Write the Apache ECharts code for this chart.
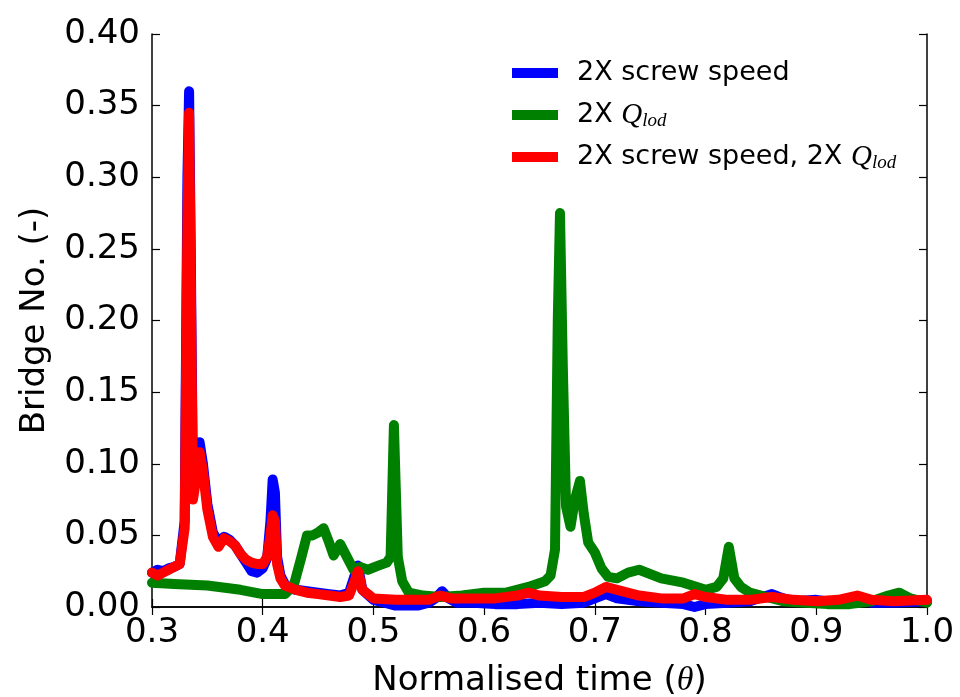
<!DOCTYPE html>
<html>
<head>
<meta charset="utf-8">
<script src="https://cdn.jsdelivr.net/npm/echarts@6/dist/echarts.min.js"></script>
<style>
  html, body { margin: 0; padding: 0; background: #fff; }
  #chart { width: 960px; height: 697px; }
</style>
</head>
<body>
<div id="chart"></div>
<script>
// Bridge number against normalised time for three operating cases.

// 2X screw speed
const screwT = [0.300,0.305,0.310,0.315,0.320,0.325,0.3295,0.332,0.3335,0.335,0.337,0.340,0.343,0.346,0.350,0.355,0.360,0.365,0.370,0.375,0.380,0.385,0.390,0.395,0.400,0.404,0.407,0.409,0.411,0.413,0.416,0.420,0.425,0.430,0.440,0.450,0.460,0.470,0.478,0.483,0.486,0.490,0.500,0.510,0.520,0.530,0.540,0.550,0.556,0.562,0.568,0.575,0.590,0.610,0.630,0.650,0.670,0.690,0.700,0.710,0.720,0.740,0.760,0.780,0.790,0.800,0.820,0.840,0.860,0.870,0.880,0.900,0.920,0.935,0.950,0.970,1.000];
const screwB = [0.024,0.026,0.025,0.027,0.028,0.030,0.060,0.300,0.360,0.250,0.085,0.095,0.115,0.100,0.072,0.052,0.045,0.049,0.047,0.043,0.037,0.031,0.025,0.024,0.027,0.034,0.060,0.089,0.080,0.035,0.022,0.016,0.013,0.012,0.011,0.010,0.009,0.008,0.010,0.022,0.029,0.012,0.005,0.003,0.001,0.001,0.001,0.003,0.006,0.011,0.006,0.003,0.003,0.002,0.002,0.003,0.002,0.003,0.006,0.009,0.006,0.004,0.003,0.002,0.000,0.002,0.003,0.004,0.009,0.006,0.004,0.005,0.003,0.006,0.003,0.003,0.004];

// 2X Q_lod
const qlodT = [0.300,0.320,0.350,0.380,0.400,0.420,0.428,0.435,0.440,0.445,0.450,0.455,0.460,0.464,0.470,0.476,0.482,0.488,0.495,0.505,0.512,0.5155,0.5185,0.522,0.526,0.532,0.545,0.560,0.580,0.600,0.620,0.640,0.655,0.660,0.664,0.6665,0.6685,0.671,0.674,0.678,0.682,0.6865,0.690,0.694,0.700,0.706,0.712,0.720,0.730,0.740,0.760,0.780,0.800,0.810,0.816,0.821,0.826,0.832,0.840,0.855,0.870,0.890,0.910,0.930,0.950,0.965,0.975,0.985,1.000];
const qlodB = [0.017,0.016,0.015,0.012,0.009,0.009,0.015,0.035,0.050,0.050,0.052,0.055,0.045,0.036,0.044,0.035,0.026,0.028,0.026,0.029,0.031,0.035,0.127,0.035,0.018,0.010,0.008,0.007,0.008,0.010,0.010,0.014,0.018,0.022,0.040,0.200,0.275,0.170,0.070,0.056,0.075,0.088,0.065,0.045,0.038,0.027,0.021,0.020,0.024,0.026,0.020,0.017,0.012,0.014,0.020,0.042,0.020,0.014,0.010,0.007,0.004,0.003,0.002,0.002,0.004,0.008,0.010,0.006,0.003];

// 2X screw speed, 2X Q_lod
const bothT = [0.300,0.305,0.310,0.315,0.320,0.325,0.3295,0.332,0.3335,0.335,0.337,0.340,0.343,0.346,0.350,0.355,0.360,0.365,0.370,0.375,0.380,0.385,0.390,0.395,0.400,0.404,0.407,0.409,0.411,0.413,0.416,0.420,0.430,0.440,0.450,0.460,0.470,0.478,0.483,0.486,0.490,0.500,0.520,0.540,0.550,0.560,0.570,0.590,0.610,0.630,0.640,0.650,0.670,0.690,0.700,0.710,0.720,0.740,0.760,0.780,0.790,0.800,0.820,0.840,0.860,0.880,0.900,0.920,0.937,0.950,0.970,1.000];
const bothB = [0.024,0.022,0.024,0.026,0.028,0.030,0.055,0.270,0.345,0.230,0.075,0.090,0.108,0.095,0.068,0.049,0.042,0.048,0.046,0.043,0.037,0.033,0.031,0.030,0.030,0.035,0.050,0.064,0.060,0.030,0.020,0.015,0.012,0.010,0.009,0.008,0.007,0.008,0.018,0.025,0.012,0.006,0.005,0.005,0.005,0.008,0.006,0.006,0.006,0.008,0.010,0.008,0.007,0.007,0.010,0.014,0.012,0.008,0.006,0.006,0.009,0.007,0.005,0.005,0.007,0.005,0.004,0.005,0.008,0.005,0.004,0.005];

const xTicks = { min: 0.3, max: 1.0, step: 0.1 };
const yTicks = { min: 0.0, max: 0.40, step: 0.05 };

const seriesNames = ['2X screw speed', '2X Q_lod', '2X screw speed, 2X Q_lod'];
const legendText = {
  '2X screw speed': '2X screw speed',
  '2X Q_lod': '2X {q|Q}{s|lod}',
  '2X screw speed, 2X Q_lod': '2X screw speed, 2X {q|Q}{s|lod}'
};
const colours = ['#0000ff', '#008000', '#ff0000'];

const pairs = (t, b) => t.map((v, i) => [v, b[i]]);

const FONT = 'DejaVu Sans';
const mathRich = {
  q: { fontFamily: 'Liberation Serif', fontStyle: 'italic', fontSize: 29, lineHeight: 30, verticalAlign: 'middle' },
  s: { fontFamily: 'Liberation Serif', fontStyle: 'italic', fontSize: 19, lineHeight: 30, verticalAlign: 'bottom', padding: [10, 0, 0, 0] }
};

const axisLine = { show: true, lineStyle: { color: '#000', width: 1.5 } };
const axisTick = { show: true, inside: true, length: 8, lineStyle: { color: '#000', width: 1.2 } };

const chart = echarts.init(document.getElementById('chart'), null, { renderer: 'canvas' });

const lineSeries = (name, data, colour) => ({
  name, type: 'line', data,
  xAxisIndex: 0, yAxisIndex: 0,
  showSymbol: false, symbol: 'none',
  lineStyle: { color: colour, width: 10, cap: 'round', join: 'round' },
  itemStyle: { color: colour },
  clip: true
});

chart.setOption({
  animation: false,
  backgroundColor: '#fff',
  grid: { left: 152, top: 34, right: 33, bottom: 90, containLabel: false, outerBoundsMode: 'none' },
  legend: {
    orient: 'vertical',
    left: 507, top: 53,
    itemWidth: 46, itemHeight: 10, itemGap: 12,
    icon: 'rect',
    data: seriesNames,
    formatter: name => legendText[name],
    textStyle: { fontFamily: FONT, fontSize: 27, lineHeight: 30, color: '#000', padding: [0, 0, 0, 14], rich: mathRich }
  },
  xAxis: [
    {
      type: 'value', position: 'bottom',
      min: xTicks.min, max: xTicks.max, interval: xTicks.step,
      axisLine, axisTick, splitLine: { show: false },
      axisLabel: { color: '#000', fontFamily: FONT, fontSize: 34, margin: 9, formatter: v => v.toFixed(1) },
      name: 'Normalised time ({th|θ})', nameLocation: 'middle', nameGap: 57,
      nameTextStyle: { color: '#000', fontFamily: FONT, fontSize: 34,
        rich: { th: { fontFamily: 'Liberation Serif', fontStyle: 'italic', fontSize: 34, color: '#000' } } }
    },
    {
      type: 'value', position: 'top',
      min: xTicks.min, max: xTicks.max, interval: xTicks.step,
      axisLine, axisTick, axisLabel: { show: false }, splitLine: { show: false }
    }
  ],
  yAxis: [
    {
      type: 'value', position: 'left',
      min: yTicks.min, max: yTicks.max, interval: yTicks.step,
      axisLine, axisTick, splitLine: { show: false },
      axisLabel: { color: '#000', fontFamily: FONT, fontSize: 34, margin: 12, formatter: v => v.toFixed(2) },
      name: 'Bridge No. (-)', nameLocation: 'middle', nameGap: 100, nameRotate: 90,
      nameTextStyle: { color: '#000', fontFamily: FONT, fontSize: 34 }
    },
    {
      type: 'value', position: 'right',
      min: yTicks.min, max: yTicks.max, interval: yTicks.step,
      axisLine, axisTick, axisLabel: { show: false }, splitLine: { show: false }
    }
  ],
  series: [
    lineSeries(seriesNames[0], pairs(screwT, screwB), colours[0]),
    lineSeries(seriesNames[1], pairs(qlodT, qlodB), colours[1]),
    lineSeries(seriesNames[2], pairs(bothT, bothB), colours[2])
  ]
});
</script>
</body>
</html>
